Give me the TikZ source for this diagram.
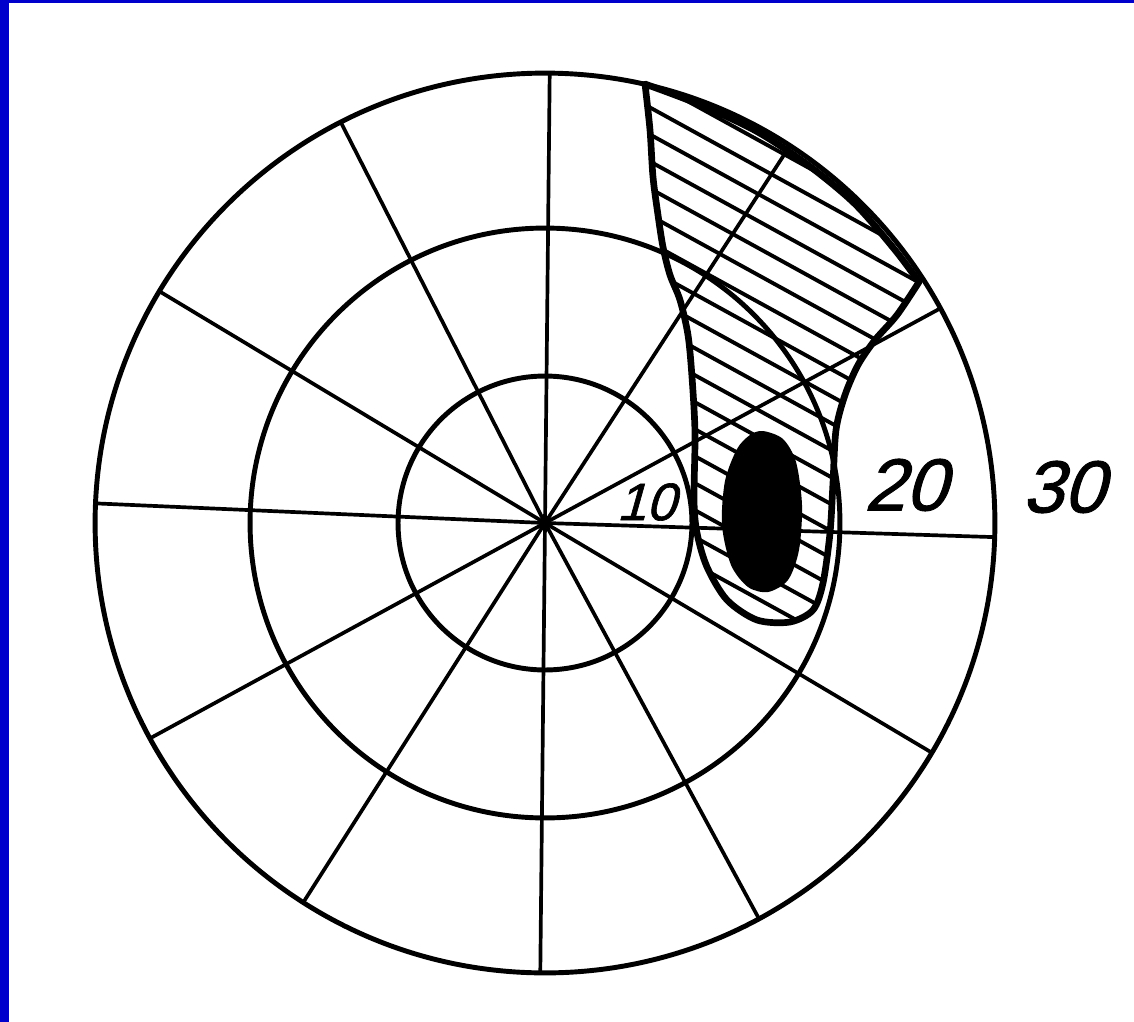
\documentclass[tikz,border=0pt]{standalone}
\usepackage{fontspec}
\newfontfamily\lblfont[FakeSlant=0.28,FakeBold=1.2]{Liberation Sans}
\definecolor{frameblue}{RGB}{0,0,205}
\newcommand\hatchregion{plot[smooth] coordinates {(645,84) (698,104) (756,131) (808,165) (855,204) (895,250) (919,282)}
  -- plot[smooth] coordinates {(919,282) (897,315) (875,340) (858,365) (845,395) (836,430) (833,483) (830,533) (823,583) (813,610) (790,622) (757,620) (727,600) (707,567) (697,533) (694,500) (695,433) (692,377) (688,335) (680,300) (670,275) (663,247) (658,215) (653,177) (650,130) (645,84)} -- cycle}
\begin{document}
\begin{tikzpicture}[x=0.02cm,y=-0.02cm,
  ring/.style={line width=2.8pt},
  ray/.style={line width=2.1pt},
  hatchline/.style={line width=2.2pt},
  border/.style={line width=3.8pt, line join=round},
  lbl/.style={font=\lblfont, inner sep=0pt},
]
\useasboundingbox (0,0) rectangle (1134,1022);
\fill[white] (0,0) rectangle (1134,1022);
\fill[frameblue] (0,0) rectangle (9,1022);
\fill[frameblue] (0,0) rectangle (1134,3);
\coordinate (C) at (545,523);
% rays
\foreach \a in {358.2,28.5,57,89.4,117,149,177.5,208.6,237.5,269.4,298.4,329.3}
  \draw[ray] (C) -- ++(\a:9cm);
% rings
\draw[ring] (C) circle[radius=2.94cm];
\draw[ring] (C) circle[radius=5.9cm];
\draw[ring] (C) circle[radius=9cm];
% hatched region
\begin{scope}
  \clip \hatchregion;
  \foreach \k in {-2,...,18}
    \draw[hatchline] (600,{0.55*600-250+27*\k}) -- (960,{0.55*960-250+27*\k});
\end{scope}
\draw[border] \hatchregion;
% scotoma
\fill[black] plot[smooth cycle] coordinates {(763,431) (783,439) (796,462) (802,505) (799,550) (788,580) (768,592) (748,587) (731,565) (722,525) (725,481) (737,449) (750,435)};
% labels
\node[lbl, font=\lblfont\fontsize{30}{30}\selectfont] (l10) at (646,502) {10};
\node[lbl, font=\lblfont\fontsize{42}{42}\selectfont] (l20) at (905,485) {20};
\node[lbl, font=\lblfont\fontsize{42}{42}\selectfont] (l30) at (1063,487) {30};
\end{tikzpicture}
\end{document}
